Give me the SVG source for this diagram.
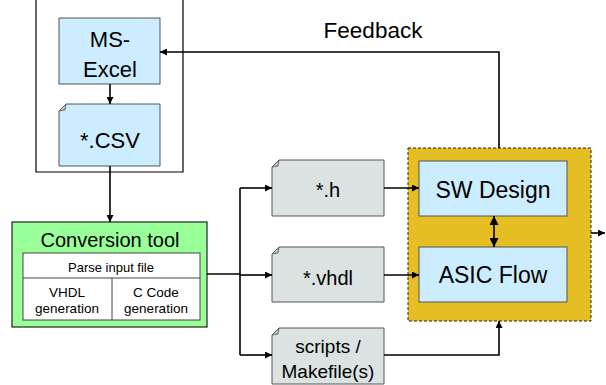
<svg xmlns="http://www.w3.org/2000/svg" width="606" height="385" viewBox="0 0 606 385" font-family="'Liberation Sans', Arimo, Arial, Helvetica, sans-serif">
<style>
text{font-family:'Liberation Sans',Arimo,Arial,Helvetica,sans-serif;fill:#000;text-anchor:middle}
.blue{fill:#CCECFF;stroke:#555;stroke-width:1}
.gray{fill:#DAE2E2;stroke:#555;stroke-width:1}
.ln{fill:none;stroke:#000;stroke-width:1.6}
.thin{fill:none;stroke:#000;stroke-width:1.2}
.fold{fill:#B8C4CC;stroke:#555;stroke-width:0.8}
</style>
<defs>
<marker id="ah" viewBox="0 0 10 10" refX="10" refY="5" markerWidth="7" markerHeight="7" markerUnits="userSpaceOnUse" orient="auto">
<path d="M0,0 L10,5 L0,10 z" fill="#000"/>
</marker>
<marker id="ah2" viewBox="0 0 10 10" refX="10" refY="5" markerWidth="9" markerHeight="9" markerUnits="userSpaceOnUse" orient="auto-start-reverse">
<path d="M0,0 L10,5 L0,10 z" fill="#000"/>
</marker>
</defs>
<g id="container">
<path class="thin" d="M36,0 V172 H183 V0"/>
</g>
<g id="ms-excel">
<rect class="blue" x="59" y="18" width="101" height="66"/>
<text x="110" y="47" font-size="22">MS-</text>
<text x="110" y="77" font-size="22">Excel</text>
</g>
<g id="csv">
<path class="blue" d="M66,104 H160 V166 H59 V111 Z"/>
<path class="fold" d="M59,111 L66,104 L65,110 Z"/>
<text x="110" y="148" font-size="22">*.CSV</text>
</g>
<g id="conversion-tool">
<rect x="12" y="222" width="195" height="105" fill="#99FF99" stroke="#222" stroke-width="1.2"/>
<text x="110" y="247" font-size="20">Conversion tool</text>
<rect x="23" y="253" width="177" height="67" fill="#fff" stroke="#444" stroke-width="1"/>
<line x1="23" y1="278" x2="200" y2="278" stroke="#444" stroke-width="1"/>
<line x1="112" y1="278" x2="112" y2="320" stroke="#444" stroke-width="1"/>
<text x="111" y="272" font-size="13">Parse input file</text>
<text x="67" y="297" font-size="13.5">VHDL</text>
<text x="67" y="313" font-size="13.5">generation</text>
<text x="156" y="297" font-size="13.5">C Code</text>
<text x="156" y="313" font-size="13.5">generation</text>
</g>
<g id="h-file">
<path class="gray" d="M279,160 H384 V216 H272 V167 Z"/>
<path class="fold" d="M272,167 L279,160 L278,166 Z"/>
<text x="328" y="197" font-size="20">*.h</text>
</g>
<g id="vhdl-file">
<path class="gray" d="M279,247 H384 V302 H272 V254 Z"/>
<path class="fold" d="M272,254 L279,247 L278,253 Z"/>
<text x="328" y="285" font-size="20">*.vhdl</text>
</g>
<g id="scripts-file">
<path class="gray" d="M279,328 H384 V384 H272 V335 Z"/>
<path class="fold" d="M272,335 L279,328 L278,334 Z"/>
<text x="328" y="353" font-size="19">scripts /</text>
<text x="328" y="378" font-size="19">Makefile(s)</text>
</g>
<g id="design-block">
<rect x="408" y="148" width="183" height="173" fill="#E4BE22" stroke="#222" stroke-width="1" stroke-dasharray="3,2"/>
</g>
<g id="sw-design">
<rect class="blue" x="419" y="161" width="148" height="55"/>
<text x="493" y="198" font-size="23">SW Design</text>
</g>
<g id="asic-flow">
<rect class="blue" x="419" y="247" width="148" height="55"/>
<text x="493" y="283" font-size="23">ASIC Flow</text>
</g>
<g id="feedback-label">
<text x="373" y="38" font-size="22.5">Feedback</text>
</g>
<g id="connectors">
<line class="ln" x1="110" y1="84" x2="110" y2="104" marker-end="url(#ah)"/>
<line class="ln" x1="110" y1="166" x2="110" y2="222" marker-end="url(#ah)"/>
<line class="ln" x1="207" y1="274" x2="240" y2="274"/>
<line class="ln" x1="240" y1="188" x2="240" y2="355"/>
<line class="ln" x1="240" y1="188" x2="272" y2="188" marker-end="url(#ah)"/>
<line class="ln" x1="240" y1="275" x2="272" y2="275" marker-end="url(#ah)"/>
<line class="ln" x1="240" y1="355" x2="272" y2="355" marker-end="url(#ah)"/>
<line class="ln" x1="384" y1="188" x2="419" y2="188" marker-end="url(#ah)"/>
<line class="ln" x1="384" y1="275" x2="419" y2="275" marker-end="url(#ah)"/>
<path class="ln" d="M384,355 H499 V321" marker-end="url(#ah)"/>
<line class="ln" x1="494" y1="216" x2="494" y2="247" marker-start="url(#ah2)" marker-end="url(#ah2)"/>
<path class="ln" d="M499,148 V52 H160" marker-end="url(#ah)"/>
<line class="ln" x1="591" y1="233" x2="605" y2="233" marker-end="url(#ah)"/>
</g>
</svg>
